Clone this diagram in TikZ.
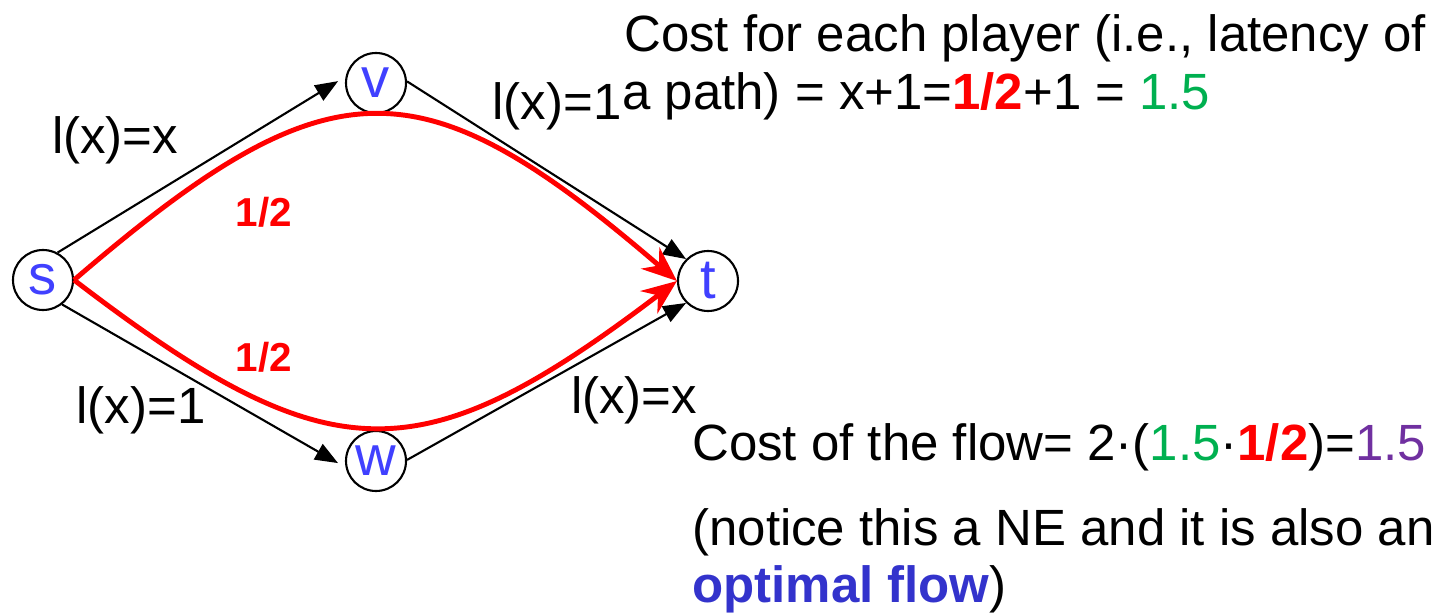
\documentclass[tikz,border=0pt]{standalone}
\usepackage{fontspec}
\setmainfont{Liberation Sans}
\usetikzlibrary{arrows.meta}
\definecolor{nodeblue}{RGB}{64,64,255}
\definecolor{optblue}{RGB}{51,51,204}
\definecolor{costgreen}{RGB}{0,176,80}
\definecolor{costpurple}{RGB}{112,48,160}

\begin{document}
\begin{tikzpicture}[x=0.2mm,y=-0.2mm,
  vertex/.style={draw,circle,line width=1.2pt,minimum size=1.2cm,inner sep=0pt,text=nodeblue,font=\fontsize{32}{32}\selectfont},
  edge/.style={line width=1.2pt,-{Triangle[length=13pt,width=10pt]}},
  flow/.style={red,line width=2.8pt,-{Stealth[length=20pt,width=16pt]}},
  lbl/.style={inner sep=0pt,font=\fontsize{29}{34}\selectfont},
  frac/.style={inner sep=0pt,text=red,font=\fontsize{23}{26}\selectfont\bfseries}]
\useasboundingbox (0,0) rectangle (1447,613);
\node[vertex] (s) at (43,280) {s};
\node[vertex] (v) at (376,83) {v};
\node[vertex] (w) at (376,461) {w};
\node[vertex] (t) at (708,281) {t};
\draw[edge,shorten >=5pt] (s.62) -- (v.168);
\draw[edge,shorten >=5pt] (s.-52) -- (w.192);
\draw[edge] (v.3) -- (t.135);
\draw[edge] (w.2) -- (t.-135);
\draw[flow] (s.east) .. controls (330,60) and (420,60) .. (t.west);
\draw[flow] (s.east) .. controls (330,476) and (420,476) .. (t.west);
\node[lbl] (lsv) at (115,140) {l(x)=x};
\node[lbl] (lvt) at (557,106) {l(x)=1};
\node[lbl] (lsw) at (141,410) {l(x)=1};
\node[lbl] (lwt) at (634,400) {l(x)=x};
\node[frac] (fup) at (264,212) {1/2};
\node[frac] (fdown) at (264,357) {1/2};
\node[lbl,anchor=base west] (player) at (624,52) {Cost for each player (i.e., latency of};
\node[lbl,anchor=base west] (path) at (622,110) {a path) = x+1=\textcolor{red}{\textbf{1/2}}+1 = \textcolor{costgreen}{1.5}};
\node[lbl,anchor=base west] (flowcost) at (692,460) {Cost of the flow= 2·(\textcolor{costgreen}{1.5}·\textcolor{red}{\textbf{1/2}})=\textcolor{costpurple}{1.5}};
\node[lbl,anchor=base west] (notice) at (692,545) {(notice this a NE and it is also an};
\node[lbl,anchor=base west] (optimal) at (692,602) {\textcolor{optblue}{\textbf{optimal flow}})};
\end{tikzpicture}
\end{document}
